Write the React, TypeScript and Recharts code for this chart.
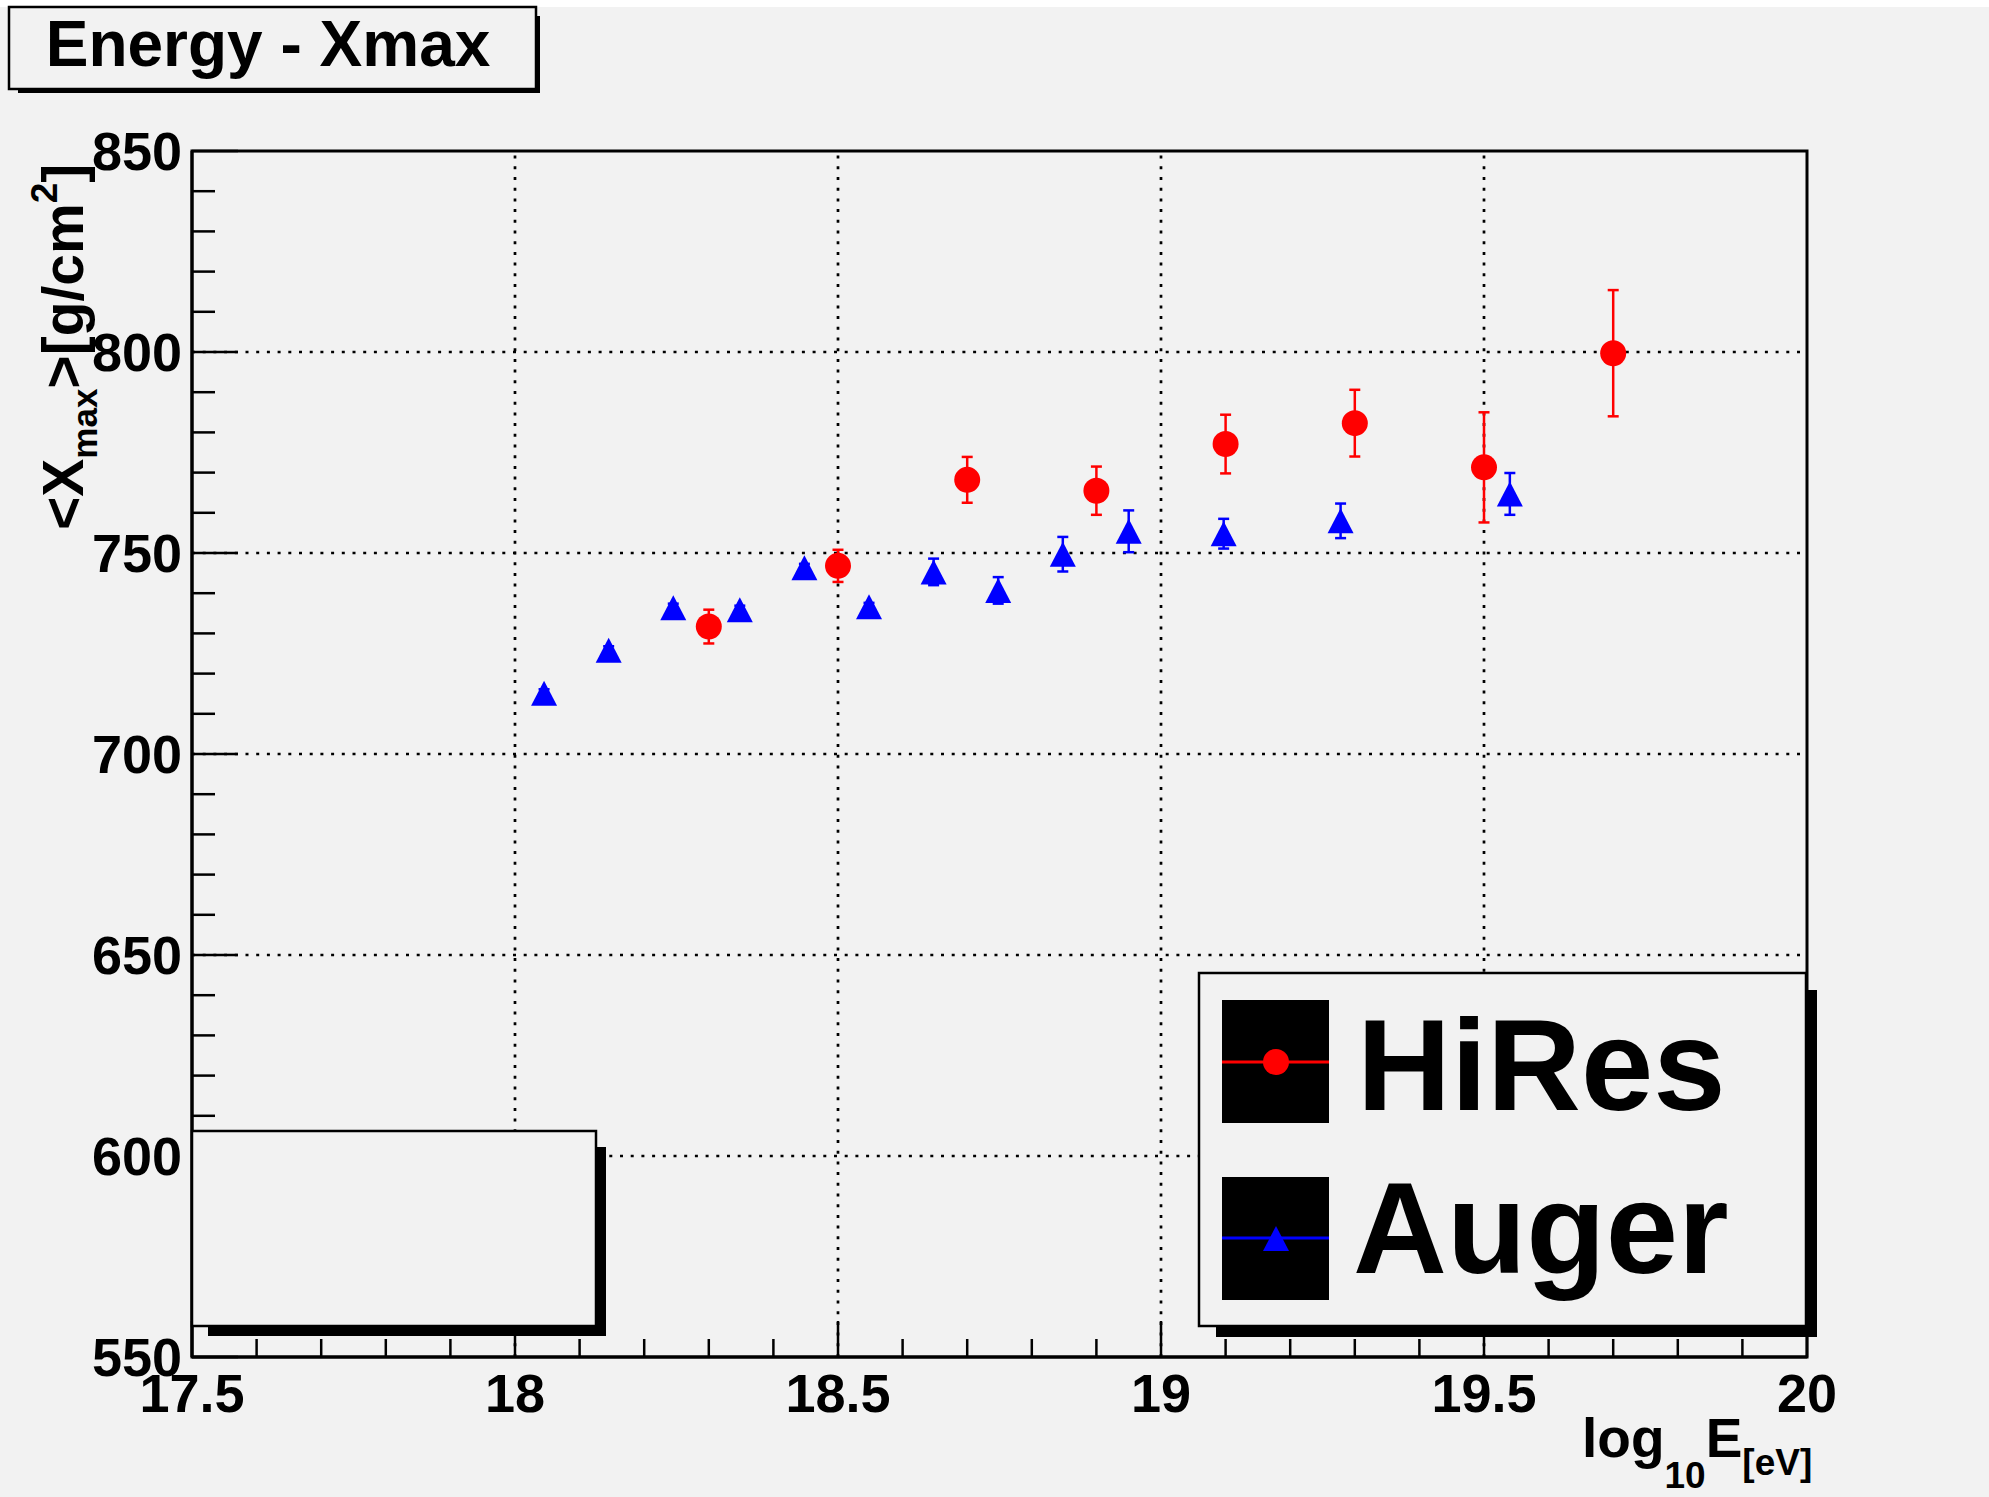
import React from 'react';
import { ScatterChart, Scatter, XAxis, YAxis, ErrorBar, ReferenceLine, ReferenceArea } from 'recharts';

// log10(E/eV) against <Xmax> in g/cm^2, with the error on <Xmax>
const hiresEnergy = [18.3, 18.5, 18.7, 18.9, 19.1, 19.3, 19.5, 19.7];
const hiresXmax = [731.7, 746.8, 768.2, 765.5, 777.1, 782.3, 771.3, 799.7];
const hiresError = [4.2, 4.0, 5.7, 6.0, 7.3, 8.3, 13.7, 15.7];

const augerEnergy = [18.045, 18.145, 18.245, 18.348, 18.448, 18.548, 18.648, 18.748, 18.848, 18.95, 19.097, 19.278, 19.54];
const augerXmax = [715.1, 725.8, 736.4, 735.9, 746.3, 736.6, 745.3, 740.7, 749.7, 755.4, 754.8, 758.0, 764.7];
const augerError = [1, 1, 1, 1, 1, 1, 3.3, 3.3, 4.3, 5.2, 3.7, 4.3, 5.2];

const xMajorTicks = [17.5, 18, 18.5, 19, 19.5, 20];
const yMajorTicks = [550, 600, 650, 700, 750, 800, 850];
const xGridLines = [18, 18.5, 19, 19.5];
const yGridLines = [600, 650, 700, 750, 800];

// minor ticks every 0.1 in energy and every 10 g/cm^2
const xTicks = Array.from({ length: 26 }, (_, i) => Math.round((17.5 + i * 0.1) * 10) / 10);
const yTicks = Array.from({ length: 31 }, (_, i) => 550 + i * 10);

const hiresData = hiresEnergy.map((x, i) => ({ x, y: hiresXmax[i], err: hiresError[i] }));
const augerData = augerEnergy.map((x, i) => ({ x, y: augerXmax[i], err: augerError[i] }));

const W = 1989;
const H = 1497;
const FONT = '"Liberation Sans", Arial, Helvetica, sans-serif';
const TICK_MARGIN = 10;

const isMajor = (v: number, list: number[]) => list.some(m => Math.abs(m - v) < 1e-6);

const XTick = (props: any) => {
    const { x, y, payload } = props;
    const v = payload.value;
    const major = isMajor(v, xMajorTicks);
    const axisY = y - TICK_MARGIN;
    return (
        <g>
            <line x1={x} x2={x} y1={axisY} y2={axisY - (major ? 36 : 18)} stroke="#000" strokeWidth={2.5} />
            {major && (
                <text x={x} y={axisY + 55} textAnchor="middle" fontFamily={FONT} fontWeight="bold" fontSize={54} fill="#000">
                    {String(v)}
                </text>
            )}
        </g>
    );
};

const YTick = (props: any) => {
    const { x, y, payload } = props;
    const v = payload.value;
    const major = isMajor(v, yMajorTicks);
    const axisX = x + TICK_MARGIN;
    return (
        <g>
            <line x1={axisX} x2={axisX + (major ? 46 : 23)} y1={y} y2={y} stroke="#000" strokeWidth={2.5} />
            {major && (
                <text x={axisX - 10} y={y + 19} textAnchor="end" fontFamily={FONT} fontWeight="bold" fontSize={54} fill="#000">
                    {String(v)}
                </text>
            )}
        </g>
    );
};

const RedDot = (p: any) => <circle cx={p.cx} cy={p.cy} r={13} fill="#ff0000" />;

const BlueTriangle = (p: any) => (
    <polygon
        points={`${p.cx - 13},${p.cy + 12.5} ${p.cx + 13},${p.cy + 12.5} ${p.cx},${p.cy - 12.5}`}
        fill="#0000ff"
    />
);

// box with ROOT-style drop shadow on the right and bottom
const ShadowBox = ({ x1, y1, x2, y2, d, s, sw }: { x1: number; y1: number; x2: number; y2: number; d: number; s: number; sw: number }) => (
    <g>
        <polygon
            points={`${x2},${y1 + d} ${x2 + s},${y1 + d} ${x2 + s},${y2 + s} ${x1 + d},${y2 + s} ${x1 + d},${y2} ${x2},${y2}`}
            fill="#000"
        />
        <rect x={x1} y={y1} width={x2 - x1} height={y2 - y1} fill="#f2f2f2" stroke="#000" strokeWidth={sw} />
    </g>
);

export default function App() {
    return (
        <div style={{ position: 'relative', width: W, height: H, background: '#f2f2f2' }}>
            <style>{'body { margin: 0; }'}</style>
            <div style={{ position: 'absolute', left: 0, top: 0, width: W, height: 7, background: '#fff' }} />

            <ScatterChart width={W} height={H} margin={{ top: 151, right: 182, bottom: 80, left: 0 }}>
                <XAxis
                    type="number"
                    dataKey="x"
                    domain={[17.5, 20]}
                    ticks={xTicks}
                    interval={0}
                    allowDataOverflow
                    height={60}
                    tickSize={0}
                    tickMargin={TICK_MARGIN}
                    tickLine={false}
                    axisLine={{ stroke: '#000', strokeWidth: 3 }}
                    tick={(p: any) => <XTick {...p} />}
                />
                <YAxis
                    type="number"
                    dataKey="y"
                    domain={[550, 850]}
                    ticks={yTicks}
                    interval={0}
                    allowDataOverflow
                    width={192}
                    tickSize={0}
                    tickMargin={TICK_MARGIN}
                    tickLine={false}
                    axisLine={{ stroke: '#000', strokeWidth: 3 }}
                    tick={(p: any) => <YTick {...p} />}
                />

                {xGridLines.map(v => (
                    <ReferenceLine key={`gx-${v}`} x={v} stroke="#000" strokeWidth={2.7} strokeDasharray="3 7.7" />
                ))}
                {yGridLines.map(v => (
                    <ReferenceLine key={`gy-${v}`} y={v} stroke="#000" strokeWidth={2.7} strokeDasharray="3 7.7" />
                ))}
                <ReferenceArea x1={17.5} x2={20} y1={550} y2={850} fill="none" stroke="#000" strokeWidth={3} />

                <Scatter name="HiRes" data={hiresData} shape={RedDot} isAnimationActive={false}>
                    <ErrorBar dataKey="err" direction="y" width={5.5} stroke="#ff0000" strokeWidth={2.5} isAnimationActive={false} />
                </Scatter>
                <Scatter name="Auger" data={augerData} shape={BlueTriangle} isAnimationActive={false}>
                    <ErrorBar dataKey="err" direction="y" width={5.5} stroke="#0000ff" strokeWidth={2.5} isAnimationActive={false} />
                </Scatter>
            </ScatterChart>

            <svg width={W} height={H} style={{ position: 'absolute', left: 0, top: 0, pointerEvents: 'none' }}>
                {/* title */}
                <ShadowBox x1={9} y1={7} x2={536} y2={89} d={9} s={4} sw={2.5} />
                <text x={268} y={66} textAnchor="middle" fontFamily={FONT} fontWeight="bold" fontSize={64} fill="#000">
                    Energy - Xmax
                </text>

                {/* empty stats pave in the lower left */}
                <ShadowBox x1={192} y1={1131} x2={596} y2={1326} d={16} s={10} sw={2.5} />

                {/* legend */}
                <ShadowBox x1={1199} y1={973} x2={1806} y2={1326} d={17} s={11} sw={2.5} />
                <rect x={1222} y={1000} width={107} height={123} fill="#000" />
                <line x1={1222} x2={1329} y1={1062} y2={1062} stroke="#ff0000" strokeWidth={3} />
                <circle cx={1276} cy={1062} r={13} fill="#ff0000" />
                <text x={1357} y={1110} fontFamily={FONT} fontWeight="bold" fontSize={130} fill="#000">HiRes</text>
                <rect x={1222} y={1177} width={107} height={123} fill="#000" />
                <line x1={1222} x2={1329} y1={1238} y2={1238} stroke="#0000ff" strokeWidth={3} />
                <polygon points="1263,1251 1289,1251 1276,1226" fill="#0000ff" />
                <text x={1353} y={1273} fontFamily={FONT} fontWeight="bold" fontSize={130} fill="#000">Auger</text>

                {/* axis titles */}
                <text transform="translate(83,530) rotate(-90)" fontFamily={FONT} fontWeight="bold" fontSize={57} fill="#000">
                    <tspan>&lt;X</tspan>
                    <tspan fontSize={35} dy={14}>max</tspan>
                    <tspan dy={-14}>&gt;[g/cm</tspan>
                    <tspan fontSize={37} dy={-26}>2</tspan>
                    <tspan dy={26}>]</tspan>
                </text>
                <text x={1582} y={1457} fontFamily={FONT} fontWeight="bold" fontSize={55} fill="#000">
                    <tspan>log</tspan>
                    <tspan fontSize={37} dy={31}>10</tspan>
                    <tspan dy={-31}>E</tspan>
                    <tspan fontSize={37} dy={18}>[eV]</tspan>
                </text>
            </svg>
        </div>
    );
}
